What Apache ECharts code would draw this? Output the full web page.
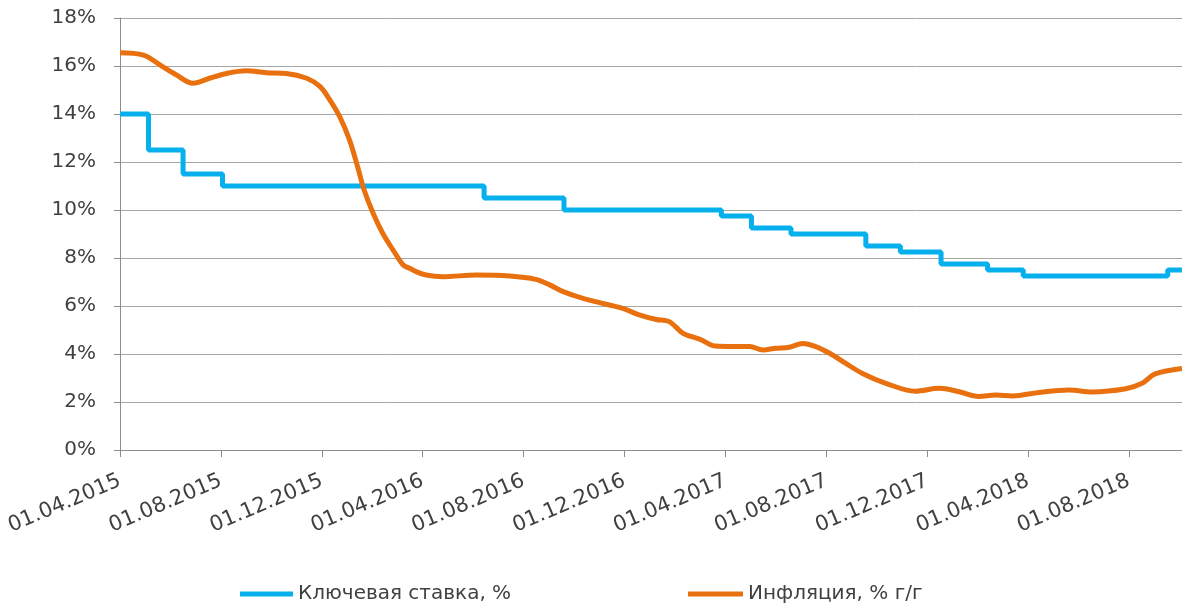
<!DOCTYPE html>
<html>
<head>
<meta charset="utf-8">
<title>Ключевая ставка и инфляция</title>
<script src="https://cdn.jsdelivr.net/npm/echarts@6/dist/echarts.min.js"></script>
<style>
  html, body { margin: 0; padding: 0; background: #ffffff; }
  #chart { width: 1182px; height: 605px; }
</style>
</head>
<body>
<div id="chart"></div>
<script>
// Axis labels every four months, starting 01.04.2015
const tickLabels = [
  '01.04.2015', '01.08.2015', '01.12.2015', '01.04.2016', '01.08.2016',
  '01.12.2016', '01.04.2017', '01.08.2017', '01.12.2017', '01.04.2018',
  '01.08.2018'
];

// CBR key rate, % — dates when a new rate took effect
const rateDates = [
  '2015-04-01', '2015-05-05', '2015-06-16', '2015-08-03', '2016-06-14',
  '2016-09-19', '2017-03-27', '2017-05-02', '2017-06-19', '2017-09-18',
  '2017-10-30', '2017-12-18', '2018-02-12', '2018-03-26', '2018-09-17',
  '2018-10-04'
];
const rateValues = [
  14, 12.5, 11.5, 11, 10.5,
  10, 9.75, 9.25, 9, 8.5,
  8.25, 7.75, 7.5, 7.25, 7.5,
  7.5
];

// Inflation, % y/y
const cpiDates = [
  '2015-04-01', '2015-04-29', '2015-05-19', '2015-06-08', '2015-06-28',
  '2015-07-18', '2015-08-08', '2015-09-01', '2015-09-25', '2015-10-19',
  '2015-11-13', '2015-11-29', '2015-12-11', '2015-12-23', '2016-01-04',
  '2016-01-14', '2016-01-22', '2016-02-02', '2016-02-13', '2016-02-25',
  '2016-03-08', '2016-03-16', '2016-03-24', '2016-04-05', '2016-04-25',
  '2016-06-05', '2016-07-15', '2016-08-16', '2016-09-02', '2016-09-18',
  '2016-10-12', '2016-11-13', '2016-11-29', '2016-12-19', '2017-01-09',
  '2017-01-25', '2017-02-10', '2017-03-01', '2017-03-20', '2017-04-10',
  '2017-04-30', '2017-05-16', '2017-06-01', '2017-06-17', '2017-07-03',
  '2017-07-19', '2017-08-05', '2017-08-25', '2017-09-14', '2017-10-12',
  '2017-11-17', '2017-12-16', '2018-01-09', '2018-02-02', '2018-02-21',
  '2018-03-13', '2018-04-14', '2018-05-20', '2018-06-17', '2018-07-28',
  '2018-08-17', '2018-09-02', '2018-10-04'
];
const cpiValues = [
  16.55, 16.45, 16.05, 15.63, 15.28,
  15.49, 15.69, 15.8, 15.72, 15.69,
  15.49, 15.14, 14.58, 13.89, 12.92,
  11.8, 10.83, 9.86, 9.03, 8.33,
  7.71, 7.57, 7.43, 7.29, 7.22,
  7.29, 7.25, 7.11, 6.88, 6.6,
  6.32, 6.04, 5.9, 5.63, 5.44,
  5.35, 4.86, 4.61, 4.33, 4.31,
  4.31, 4.17, 4.24, 4.28, 4.44,
  4.31, 4.03, 3.61, 3.19, 2.78,
  2.45, 2.57, 2.43, 2.23, 2.29,
  2.25, 2.4, 2.5, 2.42, 2.55,
  2.78, 3.17, 3.4
];

const seriesNames = ['Ключевая ставка, %', 'Инфляция, % г/г'];
const colors = ['#05B0EC', '#E8700F'];

// Month index counted from April 2015 (fractional within a month)
function monthIndex(dateStr) {
  const [y, m, d] = dateStr.split('-').map(Number);
  const days = new Date(y, m, 0).getDate();
  return (y - 2015) * 12 + (m - 4) + (d - 1) / days;
}
function pairs(dates, values) {
  return dates.map((d, i) => [monthIndex(d), values[i]]);
}

const textColor = '#404040';
const font = 'DejaVu Sans';

const chart = echarts.init(document.getElementById('chart'), null, { renderer: 'canvas' });
chart.setOption({
  animation: false,
  backgroundColor: '#ffffff',
  grid: { left: 120, right: 0, top: 18, bottom: 155, containLabel: false },
  xAxis: {
    type: 'value',
    min: 0,
    max: 42.1,
    interval: 4,
    axisLine: { show: true, lineStyle: { color: '#8c8c8c', width: 1 } },
    axisTick: { show: true, inside: false, length: 7, lineStyle: { color: '#8c8c8c' } },
    splitLine: { show: false },
    axisLabel: {
      rotate: 23,
      margin: 30,
      showMaxLabel: false,
      color: textColor,
      fontFamily: font,
      fontSize: 21,
      formatter: v => tickLabels[Math.round(v / 4)] || ''
    }
  },
  yAxis: {
    type: 'value',
    min: 0,
    max: 18,
    interval: 2,
    axisLine: { show: true, lineStyle: { color: '#8c8c8c', width: 1 } },
    axisTick: { show: true, inside: false, length: 6, lineStyle: { color: '#8c8c8c' } },
    splitLine: { show: true, lineStyle: { color: '#a6a6a6', width: 1 } },
    axisLabel: {
      margin: 24,
      color: textColor,
      fontFamily: font,
      fontSize: 20,
      formatter: '{value}%'
    }
  },
  legend: [
    {
      left: 240, top: 584, padding: 0,
      icon: 'rect', itemWidth: 53, itemHeight: 5,
      data: [seriesNames[0]],
      textStyle: { color: textColor, fontFamily: font, fontSize: 20 }
    },
    {
      left: 688, top: 584, padding: 0,
      icon: 'rect', itemWidth: 55, itemHeight: 5,
      data: [seriesNames[1]],
      textStyle: { color: textColor, fontFamily: font, fontSize: 20 }
    }
  ],
  series: [
    {
      name: seriesNames[0],
      type: 'line',
      step: 'end',
      showSymbol: false,
      color: colors[0],
      lineStyle: { width: 5, color: colors[0] },
      data: pairs(rateDates, rateValues)
    },
    {
      name: seriesNames[1],
      type: 'line',
      smooth: 0.35,
      showSymbol: false,
      color: colors[1],
      lineStyle: { width: 5, color: colors[1] },
      data: pairs(cpiDates, cpiValues)
    }
  ]
});
</script>
</body>
</html>
